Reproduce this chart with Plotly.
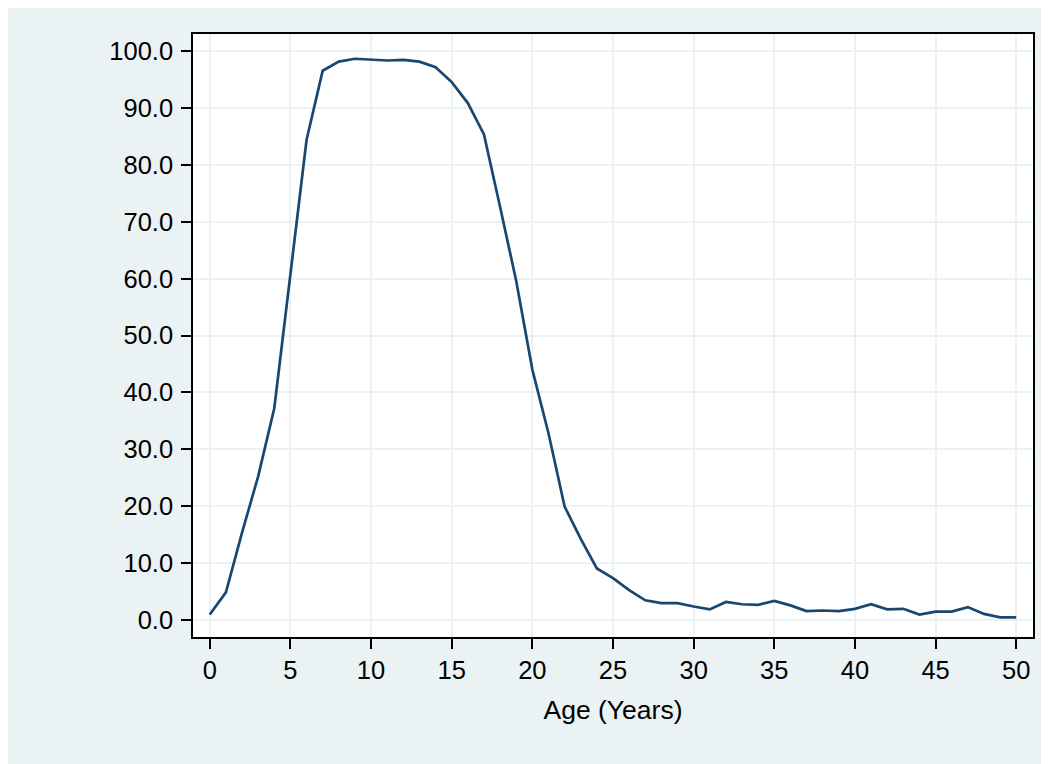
import plotly.graph_objects as go

# share (%) by age in years
age = list(range(0, 51))
share = [
    0.9, 4.8, 15.3, 25.2, 37.2, 61.3, 84.4, 96.6, 98.2, 98.7,
    98.6, 98.4, 98.5, 98.2, 97.2, 94.6, 90.9, 85.4, 72.6, 59.6,
    44.0, 32.8, 19.9, 14.2, 9.0, 7.3, 5.2, 3.4, 2.9, 2.9,
    2.3, 1.8, 3.1, 2.7, 2.6, 3.3, 2.5, 1.5, 1.6, 1.5,
    1.9, 2.7, 1.8, 1.9, 0.9, 1.4, 1.4, 2.2, 1.0, 0.4,
    0.4,
]
x_ticks = list(range(0, 51, 5))
y_ticks = list(range(0, 101, 10))

BG = "#EAF2F3"
GRID = "#EAF2F3"
NAVY = "#1A476F"

fig = go.Figure()
fig.add_trace(go.Scatter(x=age, y=share, mode="lines",
                         line=dict(color=NAVY, width=2.7),
                         showlegend=False))

tick_font = dict(family="Liberation Sans, Arial, sans-serif", size=25.5, color="black")
title_font = dict(family="Liberation Sans, Arial, sans-serif", size=26.5, color="black")

fig.update_xaxes(range=[-1.04, 51.04], tickvals=x_ticks,
                 ticks="outside", ticklen=10, tickwidth=1.5, tickcolor="black",
                 showgrid=True, gridcolor=GRID, gridwidth=2,
                 zeroline=False, showline=True, linecolor="black", linewidth=1.5,
                 mirror=True, tickfont=tick_font,
                 title=dict(text="Age (Years)", font=title_font, standoff=17))
fig.update_yaxes(range=[-3.06, 103.06], tickvals=y_ticks, tickformat=".1f",
                 ticks="outside", ticklen=10, tickwidth=1.5, tickcolor="black",
                 showgrid=True, gridcolor=GRID, gridwidth=2,
                 zeroline=False, showline=True, linecolor="black", linewidth=1.5,
                 mirror=True, tickfont=tick_font, ticklabelstandoff=3)

# the page keeps its 8px body margin, so the figure is a little smaller than the window
fig.update_layout(width=1041, height=756,
                  margin=dict(l=185, r=16, t=26, b=127),
                  paper_bgcolor=BG, plot_bgcolor="white",
                  font=tick_font)

fig.write_html("out.html")
